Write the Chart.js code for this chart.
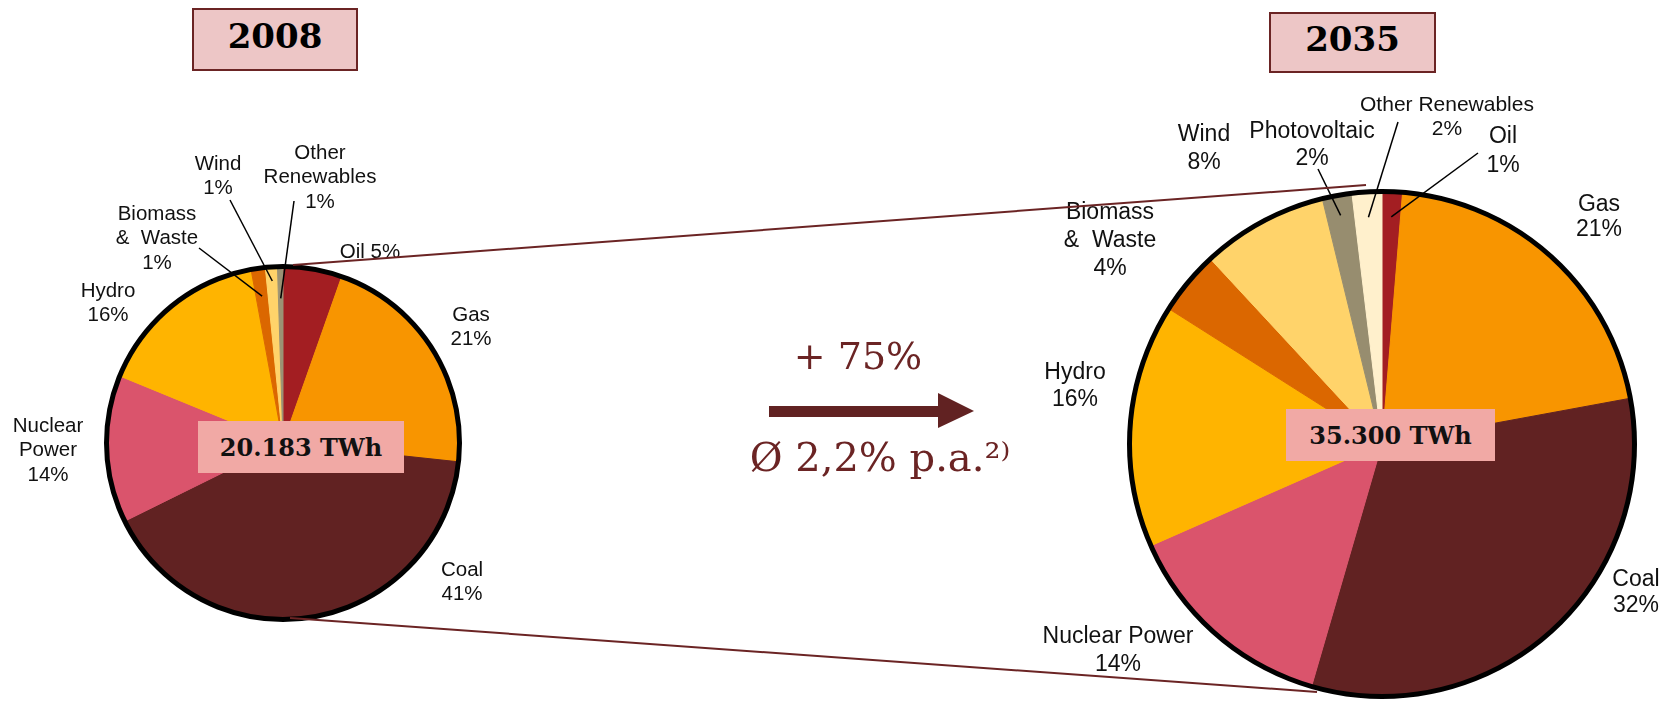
<!DOCTYPE html>
<html>
<head>
<meta charset="utf-8">
<title>Electricity generation 2008 / 2035</title>
<script src="https://cdn.jsdelivr.net/npm/chart.js@4.4.0/dist/chart.umd.min.js"></script>
<style>
  html, body { margin: 0; padding: 0; background: #fff; }
  body { position: relative; width: 1668px; height: 701px; overflow: hidden; }
  .pie { position: absolute; top: 0; height: 701px; }
  #box2008 { left: 0; width: 560px; }
  #box2035 { left: 1040px; width: 628px; }
  .year, .total { position: absolute; box-sizing: border-box; display: flex; align-items: center; justify-content: center; color: #000; }
  .year { background: #edc6c6; border: 2px solid #6b2424; font: bold 34px 'DejaVu Serif', serif; padding-bottom: 8px; }
  .total { background: #f1a9a5; font: bold 24px 'DejaVu Serif', serif; color: #111; }
  .growth { position: absolute; transform: translate(-50%, -50%); color: #6b2424; font-family: 'DejaVu Serif', serif; white-space: nowrap; }
  svg { position: absolute; left: 0; top: 0; }
</style>
</head>
<body>
<div class="pie" id="box2008"><canvas id="pie2008"></canvas></div>
<div class="pie" id="box2035"><canvas id="pie2035"></canvas></div>

<svg width="1668" height="701">
  <line x1="293" y1="265" x2="1366" y2="185" stroke="#6b2424" stroke-width="2"/>
  <line x1="290" y1="618" x2="1317" y2="692" stroke="#6b2424" stroke-width="2"/>
  <polygon points="769,406 938,406 938,393 974,411 938,428 938,417 769,417" fill="#612222"/>
</svg>

<div class="year" id="year2008" style="left:192px; top:8px; width:166px; height:63px;"></div>
<div class="year" id="year2035" style="left:1269px; top:12px; width:167px; height:61px;"></div>
<div class="total" id="total2008" style="left:198px; top:421px; width:206px; height:52px;"></div>
<div class="total" id="total2035" style="left:1286px; top:409px; width:209px; height:52px;"></div>
<div class="growth" id="growth" style="left:858px; top:356px; font-size:38px;"></div>
<div class="growth" id="cagr" style="left:880px; top:457px; font-size:40px;"></div>

<script>
// data
const years = ['2008', '2035'];
const totals = ['20.183 TWh', '35.300 TWh'];
const growthText = '+ 75%';
const cagrText = 'Ø 2,2% p.a.²⁾';

// shares in %, clockwise from 12 o'clock
const sources2008 = ['Oil', 'Gas', 'Coal', 'Nuclear\nPower', 'Hydro', 'Biomass\n&  Waste', 'Wind', 'Other\nRenewables'];
const share2008 = [5.4, 21.3, 41.0, 13.5, 15.9, 1.3, 1.1, 0.5];
const colors2008 = ['#a31e22', '#f89500', '#612222', '#da546c', '#ffb400', '#db6700', '#ffd36a', '#9b9274'];

const sources2035 = ['Oil', 'Gas', 'Coal', 'Nuclear Power', 'Hydro', 'Biomass\n&  Waste', 'Wind', 'Photovoltaic', 'Other Renewables'];
const share2035 = [1.3, 20.8, 32.4, 13.9, 15.6, 4.1, 8.1, 1.9, 1.9];
const colors2035 = ['#a31e22', '#f89500', '#612222', '#da546c', '#ffb400', '#db6700', '#ffd36a', '#978d6f', '#fff0cc'];

// label placement (page px: x = centre, y = first line); lead = start of leader line, r = where it hits the slice
const layout2008 = [
  { x: 370, y: 252, inline: true },
  { x: 471, y: 315 },
  { x: 462, y: 570 },
  { x: 48, y: 426 },
  { x: 108, y: 291 },
  { x: 157, y: 214, lead: [199, 248], r: 0.84 },
  { x: 218, y: 164, lead: [230, 200], r: 0.92 },
  { x: 320, y: 153, lead: [294, 201], r: 0.82 }
];
const layout2035 = [
  { x: 1503, y: 137, lh: 29, lead: [1478, 153], r: 0.9 },
  { x: 1599, y: 205, lh: 25 },
  { x: 1636, y: 580, lh: 26 },
  { x: 1118, y: 637, lh: 28 },
  { x: 1075, y: 373 },
  { x: 1110, y: 213, lh: 28 },
  { x: 1204, y: 135, lh: 28 },
  { x: 1312, y: 132, lh: 27, lead: [1318, 169], r: 0.92 },
  { x: 1447, y: 105, size: 21, lh: 24, lead: [1398, 122], r: 0.9 }
];

document.getElementById('year2008').textContent = years[0];
document.getElementById('year2035').textContent = years[1];
document.getElementById('total2008').textContent = totals[0];
document.getElementById('total2035').textContent = totals[1];
document.getElementById('growth').textContent = growthText;
document.getElementById('cagr').textContent = cagrText;

// outline + slice labels with leader lines
function pieLabels(layout, left, size, lh) {
  return {
    id: 'pieLabels',
    afterDatasetsDraw(chart) {
      const ctx = chart.ctx;
      const arcs = chart.getDatasetMeta(0).data;
      const values = chart.data.datasets[0].data;
      const total = values.reduce((a, b) => a + b, 0);
      const cx = arcs[0].x, cy = arcs[0].y, r = arcs[0].outerRadius;

      ctx.save();
      ctx.beginPath();
      ctx.arc(cx, cy, r, 0, Math.PI * 2);
      ctx.lineWidth = 5;
      ctx.strokeStyle = '#000';
      ctx.stroke();

      ctx.textAlign = 'center';
      ctx.textBaseline = 'middle';
      chart.data.labels.forEach((name, i) => {
        const p = layout[i];
        const pct = Math.round(values[i] / total * 100) + '%';
        const lines = p.inline ? [name + ' ' + pct] : name.split('\n').concat(pct);
        ctx.font = (p.size || size) + 'px "Liberation Sans", Arial, sans-serif';
        ctx.fillStyle = '#111';
        lines.forEach((t, k) => ctx.fillText(t, p.x - left, p.y + k * (p.lh || lh)));
        if (p.lead) {
          const a = arcs[i];
          const mid = (a.startAngle + a.endAngle) / 2;
          ctx.beginPath();
          ctx.moveTo(p.lead[0] - left, p.lead[1]);
          ctx.lineTo(cx + Math.cos(mid) * r * p.r, cy + Math.sin(mid) * r * p.r);
          ctx.lineWidth = 1.5;
          ctx.strokeStyle = '#000';
          ctx.stroke();
        }
      });
      ctx.restore();
    }
  };
}

function makePie(id, labels, values, colors, padding, plugin) {
  return new Chart(document.getElementById(id), {
    type: 'pie',
    data: {
      labels: labels,
      datasets: [{
        data: values,
        backgroundColor: colors,
        borderColor: colors,
        borderWidth: 1,
        hoverOffset: 0
      }]
    },
    options: {
      responsive: true,
      maintainAspectRatio: false,
      animation: false,
      events: [],
      layout: { padding: padding },
      plugins: { legend: { display: false }, tooltip: { enabled: false } }
    },
    plugins: [plugin]
  });
}

makePie('pie2008', sources2008, share2008, colors2008,
  { left: 106, right: 100, top: 266, bottom: 81 },
  pieLabels(layout2008, 0, 20.5, 24.5));

makePie('pie2035', sources2035, share2035, colors2035,
  { left: 89, right: 33, top: 191, bottom: 4 },
  pieLabels(layout2035, 1040, 23, 27));
</script>
</body>
</html>
